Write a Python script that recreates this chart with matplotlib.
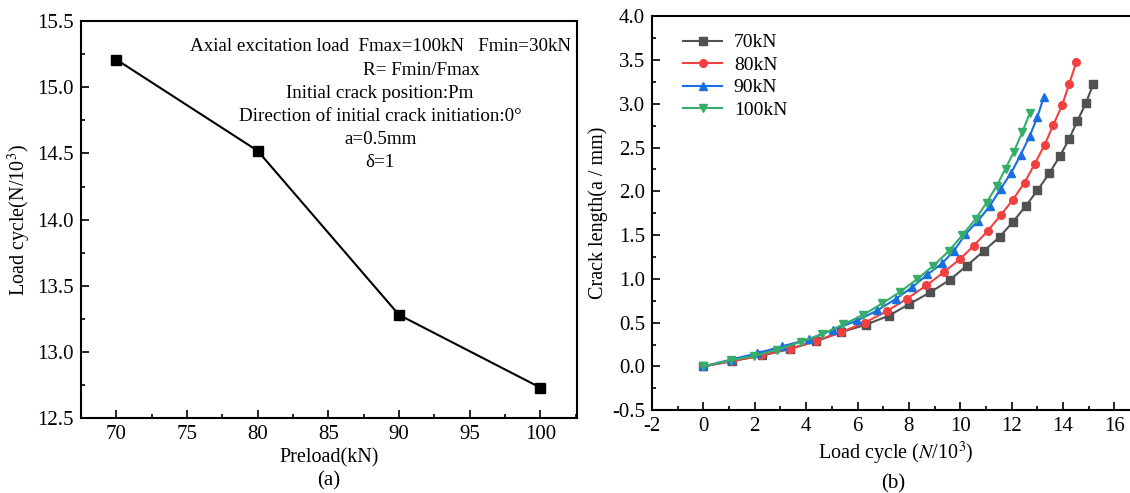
import numpy as np
import matplotlib
matplotlib.use("Agg")
import matplotlib.pyplot as plt
from matplotlib.ticker import MultipleLocator

plt.rcParams['font.family'] = ['Liberation Serif', 'DejaVu Serif']
plt.rcParams['mathtext.fontset'] = 'stix'
plt.rcParams['axes.unicode_minus'] = False

# (a) load cycle vs preload
preload = [70, 80, 90, 100]
cycles = [15.21, 14.52, 13.28, 12.73]

# (b) crack length vs load cycle
n70 = [0, 1.1, 2.3, 3.37, 4.37, 5.35, 6.32, 7.22, 8.0, 8.82, 9.6, 10.25, 10.92,
       11.53, 12.06, 12.54, 13.0, 13.47, 13.88, 14.23, 14.55, 14.89, 15.18]
a70 = [0, 0.06, 0.125, 0.2, 0.285, 0.39, 0.476, 0.58, 0.71, 0.845, 0.99, 1.15, 1.32,
       1.48, 1.655, 1.83, 2.01, 2.21, 2.405, 2.595, 2.80, 3.01, 3.23]
n80 = [0, 1.1, 2.25, 3.37, 4.37, 5.35, 6.28, 7.13, 7.91, 8.68, 9.36, 10.0, 10.53,
       11.07, 11.58, 12.05, 12.5, 12.89, 13.28, 13.62, 13.97, 14.24, 14.52]
a80 = [0, 0.06, 0.125, 0.2, 0.29, 0.39, 0.50, 0.63, 0.77, 0.925, 1.077, 1.23, 1.38,
       1.55, 1.73, 1.906, 2.10, 2.31, 2.53, 2.76, 2.99, 3.23, 3.48]
n90 = [0, 1.06, 2.1, 3.07, 4.11, 5.06, 5.99, 6.77, 7.48, 8.13, 8.72, 9.3, 9.75,
       10.2, 10.68, 11.14, 11.57, 11.98, 12.35, 12.7, 13.0, 13.25]
a90 = [0, 0.077, 0.15, 0.23, 0.31, 0.42, 0.525, 0.64, 0.77, 0.905, 1.05, 1.18, 1.32,
       1.51, 1.66, 1.83, 2.03, 2.21, 2.42, 2.63, 2.85, 3.08]
n100 = [0, 1.06, 1.97, 2.87, 3.79, 4.63, 5.45, 6.23, 6.96, 7.65, 8.33, 8.95, 9.56,
        10.08, 10.6, 11.02, 11.41, 11.76, 12.08, 12.41, 12.7]
a100 = [0, 0.07, 0.12, 0.19, 0.28, 0.37, 0.48, 0.59, 0.72, 0.85, 1.0, 1.15, 1.32,
        1.5, 1.685, 1.87, 2.06, 2.26, 2.45, 2.675, 2.89]

series = [
    (n70, a70, '70kN', '#515151', 's'),
    (n80, a80, '80kN', '#F14040', 'o'),
    (n90, a90, '90kN', '#1A6FDF', '^'),
    (n100, a100, '100kN', '#37AD6B', 'v'),
]

fig = plt.figure(figsize=(11.3, 4.93), dpi=100)

# ---- left panel
ax1 = fig.add_axes([0.0717, 0.152, 0.439, 0.805])
ax1.plot(preload, cycles, color='black', lw=1.5, marker='s', ms=7)
ax1.set_xlim(67.5, 102.6)
ax1.set_ylim(12.5, 15.5)
ax1.xaxis.set_major_locator(MultipleLocator(5))
ax1.xaxis.set_minor_locator(MultipleLocator(2.5))
ax1.yaxis.set_major_locator(MultipleLocator(0.5))
ax1.yaxis.set_minor_locator(MultipleLocator(0.25))
ax1.tick_params(which='both', direction='in', labelsize=15, top=False, right=False)
ax1.tick_params(which='major', length=6, width=1.2, pad=5)
ax1.tick_params(which='minor', length=3, width=1.2)
for s in ax1.spines.values():
    s.set_linewidth(1.5)
ax1.set_xlabel('Preload(kN)', fontsize=14.5, labelpad=3)
ax1.set_ylabel('Load cycle(N/10$^3$)', fontsize=14.5, labelpad=3)

notes = ['Axial excitation load  Fmax=100kN   Fmin=30kN',
         'R= Fmin/Fmax',
         'Initial crack position:Pm',
         'Direction of initial crack initiation:0°',
         'a=0.5mm',
         'δ=1']
note_x = [0.603, 0.685, 0.603, 0.603, 0.603, 0.603]
for i, t in enumerate(notes):
    ax1.text(note_x[i], 0.935 - 0.058 * i, t, transform=ax1.transAxes,
             ha='center', va='center', fontsize=13.7)

fig.text(0.291, 0.005, '(a)', ha='center', va='bottom', fontsize=15)

# ---- right panel
ax2 = fig.add_axes([0.577, 0.168, 0.432, 0.799])
for n, a, lab, c, m in series:
    ax2.plot(n, a, color=c, lw=1.5, marker=m, ms=5.5, label=lab)
ax2.set_xlim(-2, 17)
ax2.set_ylim(-0.5, 4.0)
ax2.xaxis.set_major_locator(MultipleLocator(2))
ax2.xaxis.set_minor_locator(MultipleLocator(1))
ax2.yaxis.set_major_locator(MultipleLocator(0.5))
ax2.yaxis.set_minor_locator(MultipleLocator(0.25))
ax2.tick_params(which='both', direction='in', labelsize=15, top=False, right=False)
ax2.tick_params(which='major', length=6, width=1.2, pad=5)
ax2.tick_params(which='minor', length=3, width=1.2)
for s in ax2.spines.values():
    s.set_linewidth(1.5)
ax2.set_xlabel('Load cycle ($N$/10$^3$)', fontsize=14.5, labelpad=3)
ax2.set_ylabel('Crack length(a / mm)', fontsize=14.5, labelpad=3)
ax2.legend(loc='upper left', bbox_to_anchor=(0.04, 0.985), frameon=False,
           fontsize=14, handlelength=2.0, handletextpad=0.6,
           labelspacing=0.25, borderaxespad=0.2)

fig.text(0.79, 0.0, '(b)', ha='center', va='bottom', fontsize=15)

fig.savefig('out.png', dpi=100)
